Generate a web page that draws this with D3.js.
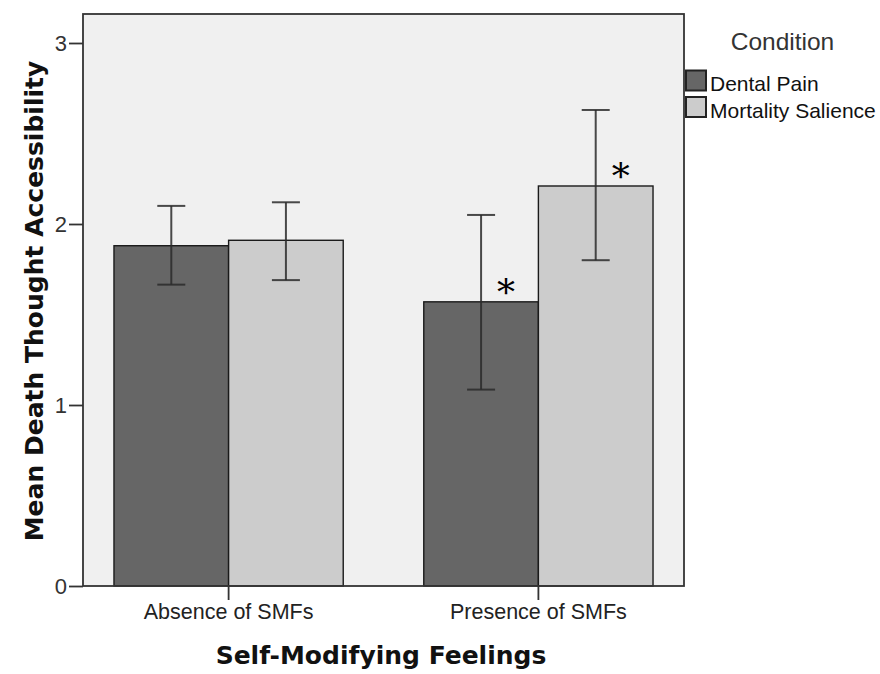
<!DOCTYPE html>
<html>
<head>
<meta charset="utf-8">
<script src="https://cdn.jsdelivr.net/npm/d3@7"></script>
<style>
  body { margin: 0; background: #fff; }
  svg { display: block; }
</style>
</head>
<body>
<svg id="chart" width="880" height="674"></svg>
<script>
// Mean death-thought accessibility by self-modifying feelings and condition
const groups = ["Absence of SMFs", "Presence of SMFs"];
const conditions = ["Dental Pain", "Mortality Salience"];
const means = {
  "Dental Pain":        [1.88, 1.57],
  "Mortality Salience": [1.91, 2.21]
};
const ciLow = {
  "Dental Pain":        [1.665, 1.085],
  "Mortality Salience": [1.69, 1.80]
};
const ciHigh = {
  "Dental Pain":        [2.10, 2.05],
  "Mortality Salience": [2.12, 2.63]
};
// significance markers: [group index, condition]
const starred = [[1, "Dental Pain"], [1, "Mortality Salience"]];
const yTicks = [0, 1, 2, 3];
const colors = { "Dental Pain": "#666666", "Mortality Salience": "#cccccc" };

const svg = d3.select("#chart");
const plotL = 83, plotR = 684, plotT = 14, plotB = 586;
const sans = "Liberation Sans, Arial, sans-serif";
const boldSans = "DejaVu Sans, Verdana, sans-serif";

const x = d3.scaleBand().domain(groups).range([plotL, plotR])
  .paddingInner(0.26).paddingOuter(0.1);
const xs = d3.scaleBand().domain(conditions).range([0, x.bandwidth()]);
const y = d3.scaleLinear().domain([0, 3]).range([plotB, plotB - 3 * 181]);

// plot background
svg.append("rect")
  .attr("x", plotL).attr("y", plotT)
  .attr("width", plotR - plotL).attr("height", plotB - plotT)
  .attr("fill", "#f0f0f0");

// bars
const rows = [];
groups.forEach((g, gi) => conditions.forEach(c => rows.push({
  g, gi, c, m: means[c][gi], lo: ciLow[c][gi], hi: ciHigh[c][gi]
})));

svg.append("g").selectAll("rect").data(rows).join("rect")
  .attr("x", d => x(d.g) + xs(d.c))
  .attr("y", d => y(d.m))
  .attr("width", xs.bandwidth())
  .attr("height", d => y(0) - y(d.m))
  .attr("fill", d => colors[d.c])
  .attr("stroke", "#1a1a1a")
  .attr("stroke-width", 1.4);

// error bars
const eb = svg.append("g").attr("stroke", "#2a2a2a").attr("stroke-opacity", 0.85).attr("stroke-width", 2);
rows.forEach(d => {
  const cx = x(d.g) + xs(d.c) + xs.bandwidth() / 2;
  eb.append("line").attr("x1", cx).attr("x2", cx).attr("y1", y(d.lo)).attr("y2", y(d.hi));
  [d.lo, d.hi].forEach(v => eb.append("line")
    .attr("x1", cx - 14).attr("x2", cx + 14).attr("y1", y(v)).attr("y2", y(v)));
});

// significance asterisks
svg.append("g").selectAll("text").data(starred).join("text")
  .attr("x", d => x(groups[d[0]]) + xs(d[1]) + xs.bandwidth() / 2 + 25)
  .attr("y", d => y(means[d[1]][d[0]]) + 3)
  .attr("text-anchor", "middle")
  .attr("font-family", "DejaVu Serif, serif")
  .attr("font-size", 36)
  .attr("fill", "#000")
  .text("*");

// plot frame
svg.append("rect")
  .attr("x", plotL).attr("y", plotT)
  .attr("width", plotR - plotL).attr("height", plotB - plotT)
  .attr("fill", "none").attr("stroke", "#333").attr("stroke-width", 1.8);

// y axis
const yAxis = svg.append("g")
  .attr("transform", `translate(${plotL},0)`)
  .call(d3.axisLeft(y).tickValues(yTicks).tickFormat(d3.format("d")).tickSize(14).tickPadding(2));
yAxis.select(".domain").remove();
yAxis.selectAll("line").attr("stroke", "#333").attr("stroke-width", 1.8);
yAxis.selectAll("text").attr("font-family", sans)
  .attr("font-size", 22).attr("fill", "#333");

// x axis
const xAxis = svg.append("g")
  .attr("transform", `translate(0,${plotB})`)
  .call(d3.axisBottom(x).tickSize(14).tickPadding(4));
xAxis.select(".domain").remove();
xAxis.selectAll("line").attr("stroke", "#333").attr("stroke-width", 1.8);
xAxis.selectAll("text").attr("font-family", sans)
  .attr("font-size", 21.5).attr("fill", "#222");

// axis titles
svg.append("text")
  .attr("x", 381).attr("y", 664)
  .attr("text-anchor", "middle")
  .attr("font-family", boldSans)
  .attr("font-weight", "bold").attr("font-size", 25).attr("fill", "#111")
  .text("Self-Modifying Feelings");

svg.append("text")
  .attr("transform", `translate(43,301) rotate(-90)`)
  .attr("text-anchor", "middle")
  .attr("font-family", boldSans)
  .attr("font-weight", "bold").attr("font-size", 25).attr("fill", "#111")
  .text("Mean Death Thought Accessibility");

// legend
const legend = svg.append("g");
legend.append("text")
  .attr("x", 782.5).attr("y", 50).attr("text-anchor", "middle")
  .attr("font-family", sans)
  .attr("font-size", 24.5).attr("fill", "#333")
  .text("Condition");
conditions.forEach((c, i) => {
  const ly = 70.5 + i * 26.5;
  legend.append("rect").attr("x", 686).attr("y", ly)
    .attr("width", 20).attr("height", 20)
    .attr("fill", colors[c]).attr("stroke", "#222").attr("stroke-width", 2);
  legend.append("text").attr("x", 710).attr("y", ly + 20.5)
    .attr("font-family", sans)
    .attr("font-size", 21).attr("fill", "#111")
    .text(c);
});
</script>
</body>
</html>
